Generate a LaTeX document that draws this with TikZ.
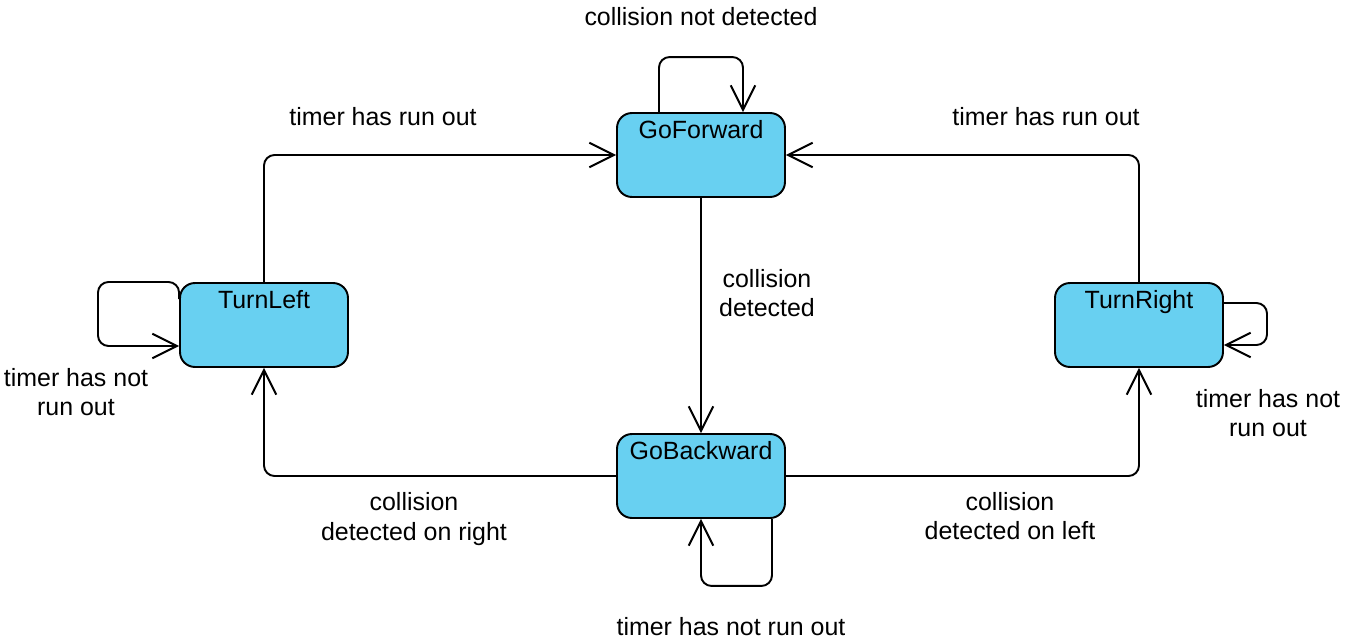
\documentclass[tikz,border=0pt]{standalone}
\usepackage{fontspec}
\setmainfont{Liberation Sans}
\usetikzlibrary{arrows.meta,positioning}
\definecolor{statefill}{RGB}{104,208,241}
\begin{document}
\begin{tikzpicture}[x=0.02cm,y=-0.02cm,
trans/.style={draw,line width=1.1pt,rounded corners=6pt,-{Straight Barb[length=14pt,width=14pt,line width=1.1pt]}},
txt/.style={align=center,font=\fontsize{14.2}{16.6}\selectfont}]
\tikzstyle{state}=[rectangle,draw,line width=1.1pt,rounded corners=8.5pt,fill=statefill,
  minimum width=3.36cm,minimum height=1.68cm]
\useasboundingbox (0,0) rectangle (1347,642);

% states
\node[state] (GoForward) at (701,155) [label={[txt,anchor=north,inner sep=4.5pt]north:GoForward}] {};
\node[state] (GoBackward) at (701,476) [label={[txt,anchor=north,inner sep=4.5pt]north:GoBackward}] {};
\node[state] (TurnLeft) at (264,325) [label={[txt,anchor=north,inner sep=4.5pt]north:TurnLeft}] {};
\node[state] (TurnRight) at (1139,325) [label={[txt,anchor=north,inner sep=4.5pt]north:TurnRight}] {};

% transitions
\draw[trans] (TurnLeft.north) |- (GoForward.west);
\draw[trans] (TurnRight.north) |- (GoForward.east);
\draw[trans] (GoForward.south) -- (GoBackward.north);
\draw[trans] (GoBackward.west) -| (TurnLeft.south);
\draw[trans] (GoBackward.east) -| (TurnRight.south);

% self loops
\draw[trans] ([xshift=-0.84cm]GoForward.north) -- ++(0,-55) -| ([xshift=0.84cm]GoForward.north);
\draw[trans] ([yshift=-0.34cm]TurnLeft.north west) |- (98,282) |- ([yshift=-0.42cm]TurnLeft.west);
\draw[trans] ([yshift=0.44cm]TurnRight.east) -| (1267,345) -- ([yshift=-0.4cm]TurnRight.east);
\draw[trans] ([xshift=1.42cm]GoBackward.south) -- ++(0,67) -| (GoBackward.south);

% labels
\node[txt] (lblFwdLoop) at (701,17) {collision not detected};
\node[txt] (lblLeftFwd) at (383,117) {timer has run out};
\node[txt] (lblRightFwd) at (1046,117) {timer has run out};
\node[txt] (lblFwdBack) at (767,293) {collision\\detected};
\node[txt] (lblLeftLoop) at (76,392) {timer has not\\run out};
\node[txt] (lblRightLoop) at (1268,413) {timer has not\\run out};
\node[txt] (lblBackLeft) at (414,519) {collision\\detected on right};
\node[txt] (lblBackRight) at (1010,516) {collision\\detected on left};
\node[txt] (lblBackLoop) at (731,627) {timer has not run out};
\end{tikzpicture}
\end{document}
